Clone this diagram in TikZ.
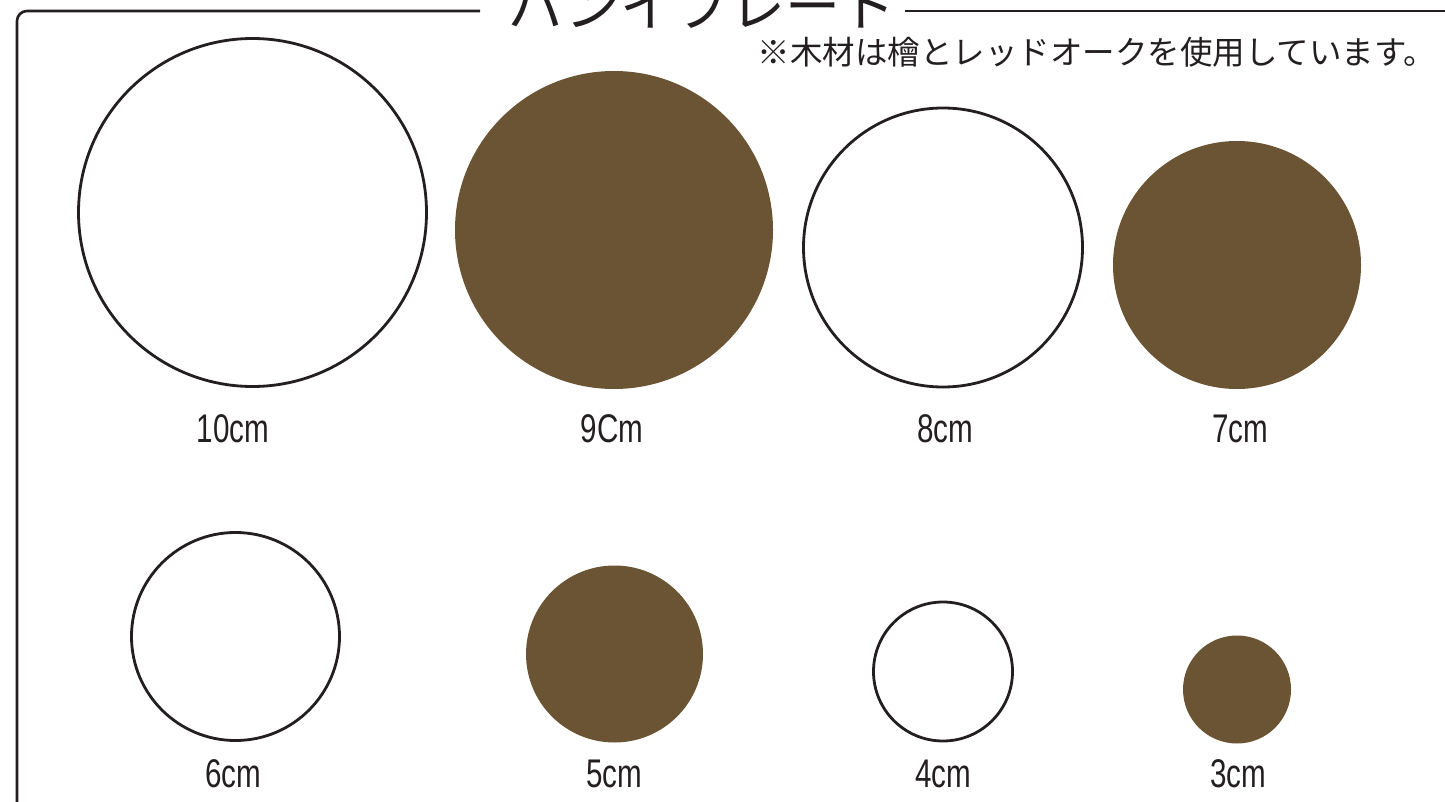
\documentclass[tikz,border=0pt]{standalone}
\usepackage{fontspec}
\setmainfont{Liberation Sans}
\newfontfamily\jp{Noto Sans CJK JP}
\definecolor{wood}{RGB}{107,84,51}
\definecolor{ink}{RGB}{35,31,32}
\newcommand\narrowtxt[1]{\scalebox{0.74}[1]{#1}}
\begin{document}
\begin{tikzpicture}[x=1pt,y=-1pt,
  plate/.style={circle, draw=ink, line width=2.8pt, inner sep=0pt, minimum size=#1},
  woodplate/.style={circle, fill=wood, inner sep=0pt, minimum size=#1},
  sizelabel/.style={anchor=base, font=\fontsize{40}{40}\selectfont, text=ink, inner sep=0pt},
  frame/.style={line width=2.6pt, draw=ink, rounded corners=10pt}]
\useasboundingbox (0,0) rectangle (1445,802);
% frame and title
\node[anchor=base, font=\jp\fontsize{55}{55}\selectfont, text=ink, inner sep=0pt] (title) at (702,27) {パンイプレート};
\coordinate (gapL) at (480,11);
\coordinate (gapR) at (905,11);
\draw[frame] (gapL) -- (17,11) -- (17,850);
\draw[frame] (gapR) -- (1480,11);
\node[anchor=base east, font=\jp\fontsize{32.5}{32.5}\selectfont, text=ink, inner sep=0pt] (note) at (1436,65) {※木材は檜とレッドオークを使用しています。};
% row 1
\node[plate=348pt] (c10) at (252.5,212.5) {};
\node[woodplate=318pt] (c9) at (614,230) {};
\node[plate=279pt] (c8) at (943,247.5) {};
\node[woodplate=248pt] (c7) at (1237,265) {};
\node[sizelabel] (l10) at (233,442) {\narrowtxt{10cm}};
\node[sizelabel] (l9) at (612,442) {\narrowtxt{9Cm}};
\node[sizelabel] (l8) at (945,442) {\narrowtxt{8cm}};
\node[sizelabel] (l7) at (1240,442) {\narrowtxt{7cm}};
% row 2
\node[plate=208pt] (c6) at (235.5,636.5) {};
\node[woodplate=177pt] (c5) at (614.5,654) {};
\node[plate=139pt] (c4) at (943,671.5) {};
\node[woodplate=108pt] (c3) at (1237,689.5) {};
\node[sizelabel] (l6) at (233,787) {\narrowtxt{6cm}};
\node[sizelabel] (l5) at (614,787) {\narrowtxt{5cm}};
\node[sizelabel] (l4) at (943,787) {\narrowtxt{4cm}};
\node[sizelabel] (l3) at (1238,787) {\narrowtxt{3cm}};
\end{tikzpicture}
\end{document}
